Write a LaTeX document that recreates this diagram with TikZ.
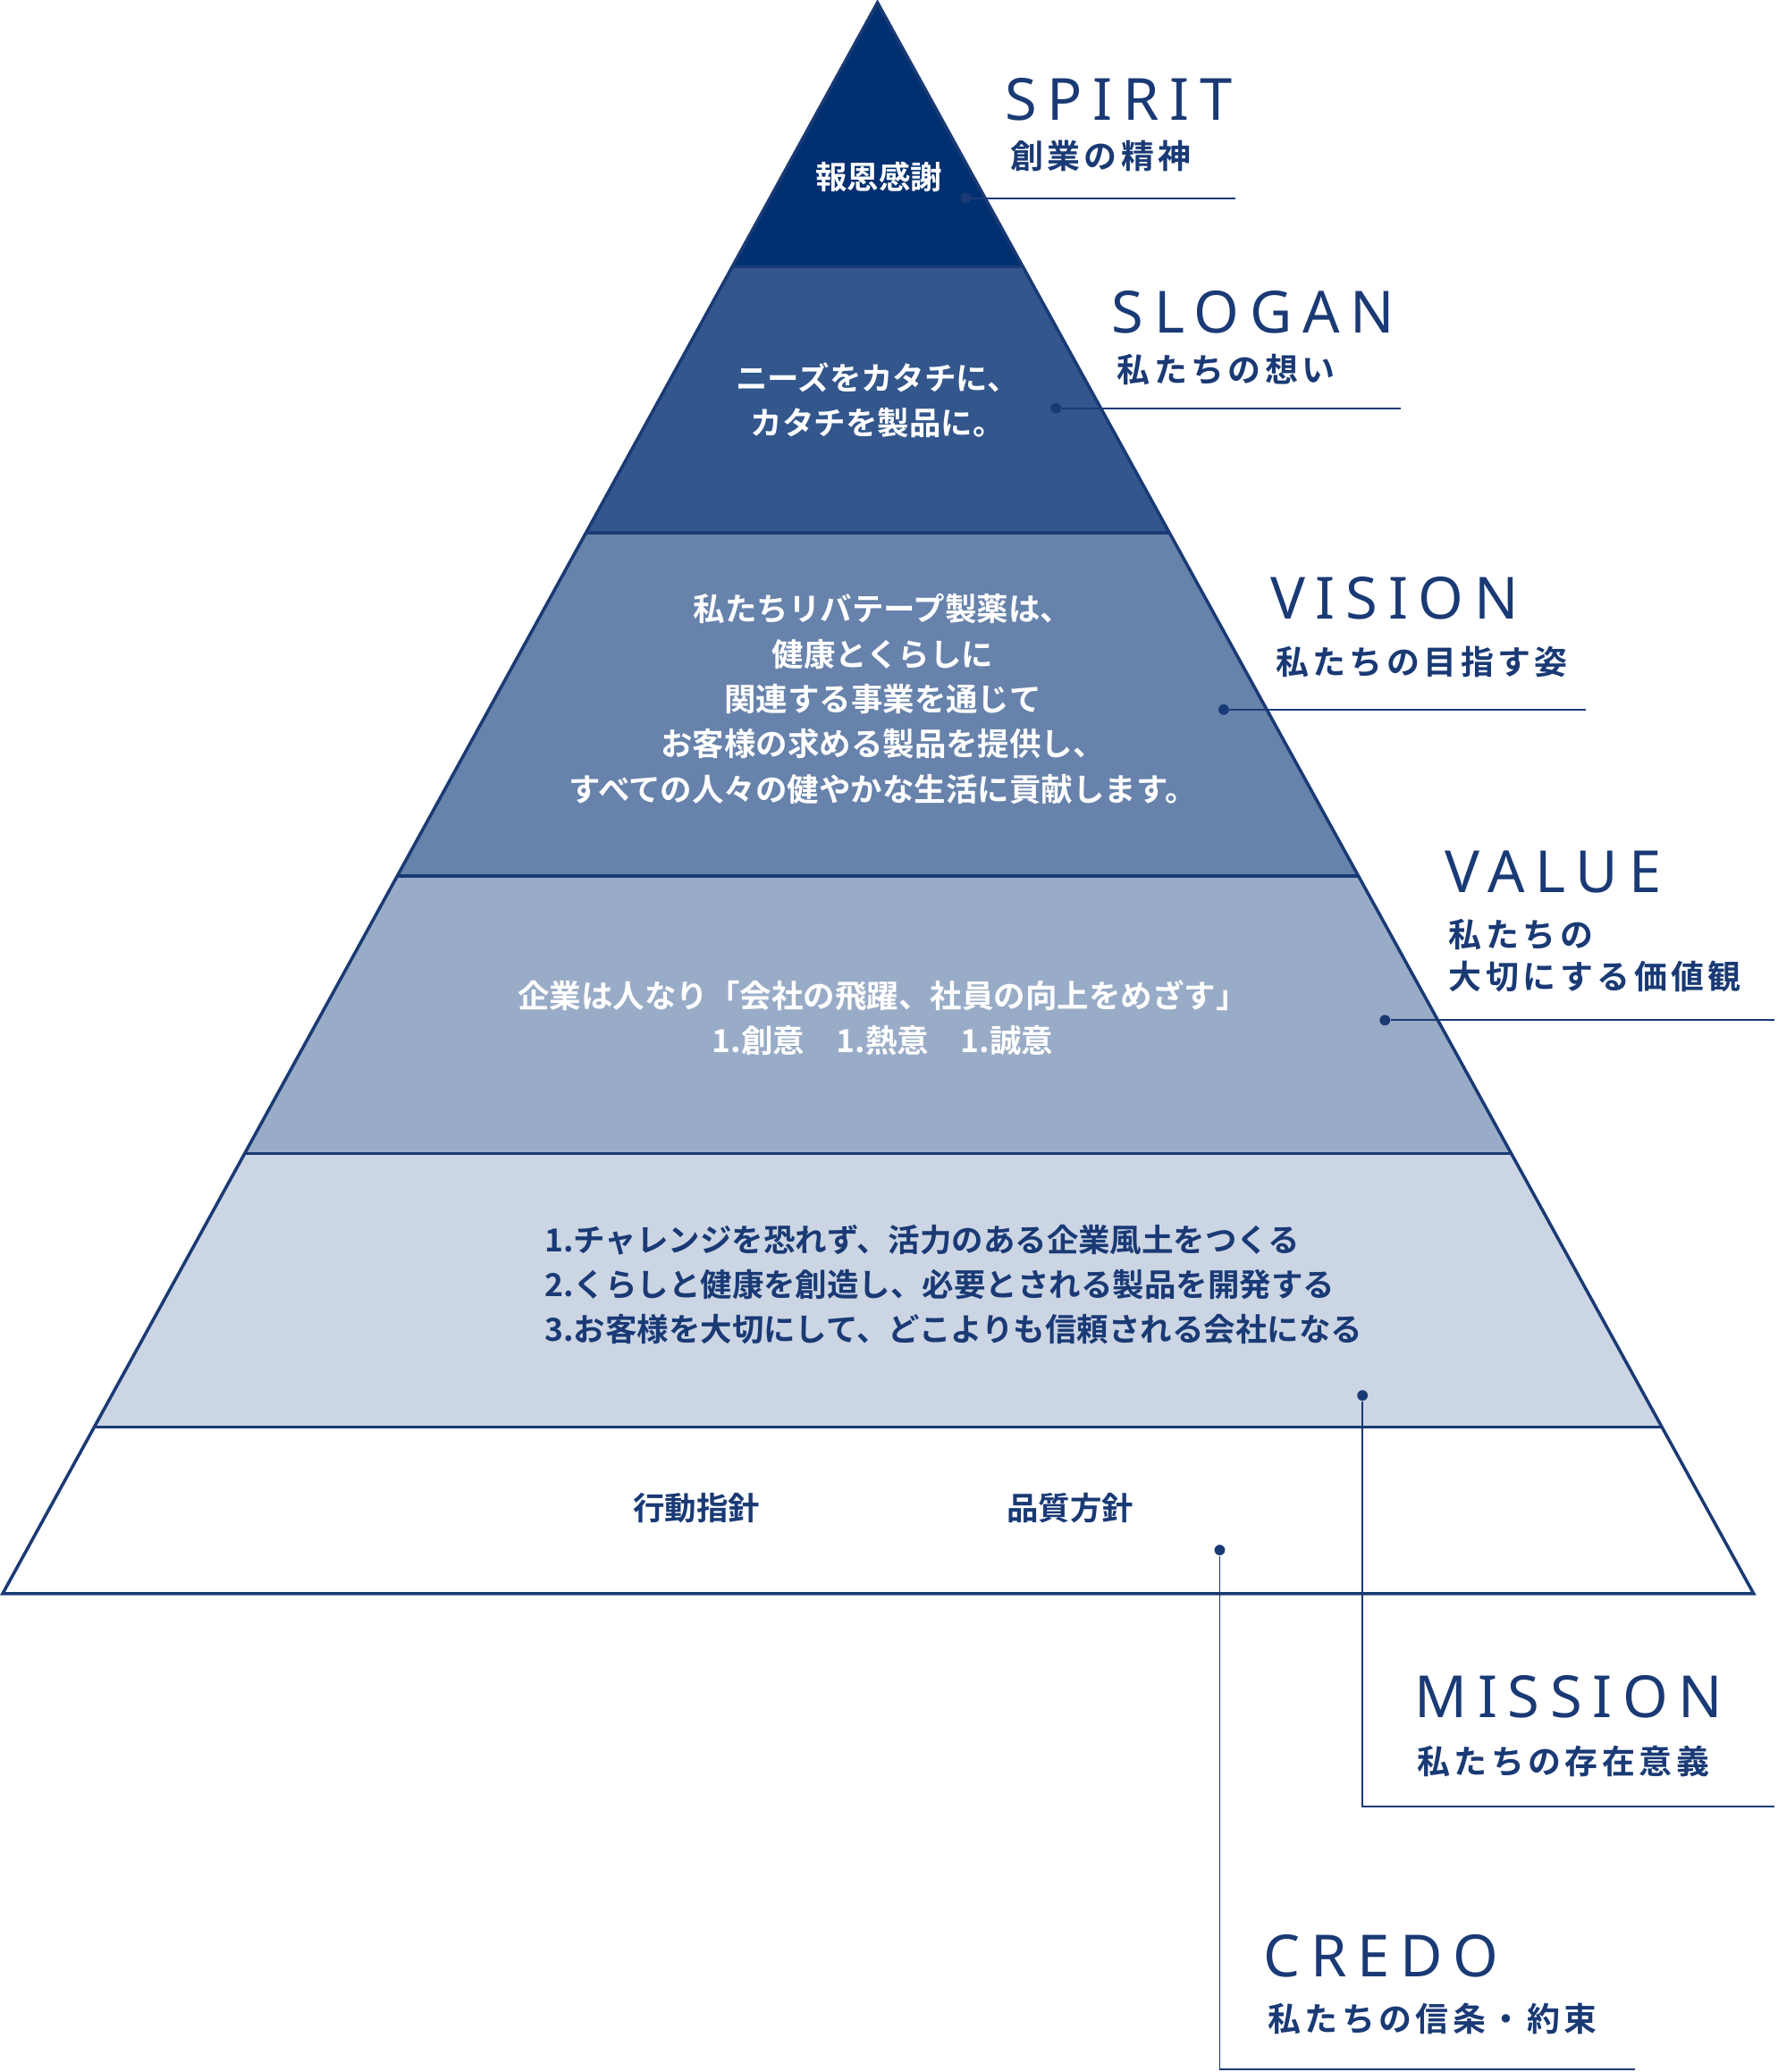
\documentclass[tikz,border=0pt]{standalone}
\usepackage{fontspec}
\setmainfont{Noto Sans CJK JP}[BoldFont={Noto Sans CJK JP Bold}]
\newfontfamily\headfont{Noto Sans}[LetterSpace=18]
\definecolor{navy}{HTML}{1A3A75}
\definecolor{c1}{HTML}{003070}
\definecolor{c2}{HTML}{33578C}
\definecolor{c3}{HTML}{6782AB}
\definecolor{c4}{HTML}{99ACC7}
\definecolor{c5}{HTML}{CCD5E3}
\tikzset{
 band/.style={draw=navy,line width=1.2pt},
 wt/.style={text=white,font=\bfseries\fontsize{12}{17}\selectfont,align=center},
 nt/.style={text=navy,font=\bfseries\fontsize{12}{17}\selectfont,align=left},
 head/.style={text=navy,font=\headfont\bfseries\fontsize{22}{24}\selectfont,anchor=west,inner sep=0},
 sub/.style={text=navy,font=\bfseries\fontsize{12.5}{16}\selectfont\addfontfeatures{LetterSpace=12},anchor=west,align=left,inner sep=0},
 lead/.style={draw=navy,line width=0.6pt},
 dotc/.style={fill=navy,circle,inner sep=0,minimum size=4pt}
}
\begin{document}
\begin{tikzpicture}[x=0.5pt,y=-0.5pt]
\useasboundingbox (0,0) rectangle (1345,1568);
\fill[c1] (664,2)--(774,202)--(554,202)--cycle;
\fill[c2] (554,202)--(774,202)--(884,403)--(443,403)--cycle;
\fill[c3] (443,403)--(884,403)--(1028,663)--(300,663)--cycle;
\fill[c4] (300,663)--(1028,663)--(1143,873)--(185,873)--cycle;
\fill[c5] (185,873)--(1143,873)--(1257,1080)--(71,1080)--cycle;
\draw[band] (664,2)--(1327,1206)--(2,1206)--cycle;
\draw[band] (554,202)--(774,202) (443,403)--(884,403) (300,663)--(1028,663) (185,873)--(1143,873) (71,1080)--(1257,1080);

\node[wt] (t1) at (665,134) {報恩感謝};
\node[wt] (t2) at (664,303) {ニーズをカタチに、\\カタチを製品に。};
\node[wt] (t3) at (668,529) {私たちリバテープ製薬は、\\健康とくらしに\\関連する事業を通じて\\お客様の求める製品を提供し、\\すべての人々の健やかな生活に貢献します。};
\node[wt] (t4) at (668,770) {企業は人なり「会社の飛躍、社員の向上をめざす」\\1.創意\quad 1.熱意\quad 1.誠意};
\node[nt,anchor=west] (t5) at (405,972) {1.チャレンジを恐れず、活力のある企業風土をつくる\\2.くらしと健康を創造し、必要とされる製品を開発する\\3.お客様を大切にして、どこよりも信頼される会社になる};
\node[nt] (t6) at (527,1141) {行動指針};
\node[nt] (t7) at (810,1141) {品質方針};

\node[head] (h1) at (760,75) {SPIRIT};
\node[sub] (s1) at (764,118) {創業の精神};
\node[dotc] (d1) at (731,150) {}; \coordinate (e1) at (935,150);
\draw[lead] (d1)--(e1);

\node[head] (h2) at (841,236) {SLOGAN};
\node[sub] (s2) at (845,280) {私たちの想い};
\node[dotc] (d2) at (799,309) {}; \coordinate (e2) at (1060,309);
\draw[lead] (d2)--(e2);

\node[head] (h3) at (961,453) {VISION};
\node[sub] (s3) at (965,501) {私たちの目指す姿};
\node[dotc] (d3) at (926,537) {}; \coordinate (e3) at (1200,537);
\draw[lead] (d3)--(e3);

\node[head] (h4) at (1093,660) {VALUE};
\node[sub] (s4) at (1096,723) {私たちの\\大切にする価値観};
\node[dotc] (d4) at (1048,772) {}; \coordinate (e4) at (1343,772);
\draw[lead] (d4)--(e4);

\node[head] (h5) at (1070,1284) {MISSION};
\node[sub] (s5) at (1072,1333) {私たちの存在意義};
\node[dotc] (d5) at (1031,1056) {}; \coordinate (e5) at (1343,1367);
\draw[lead] (d5)|-(e5);

\node[head] (h6) at (956,1480) {CREDO};
\node[sub] (s6) at (959,1528) {私たちの信条・約束};
\node[dotc] (d6) at (923,1173) {}; \coordinate (e6) at (1237,1566);
\draw[lead] (d6)|-(e6);
\end{tikzpicture}
\end{document}
